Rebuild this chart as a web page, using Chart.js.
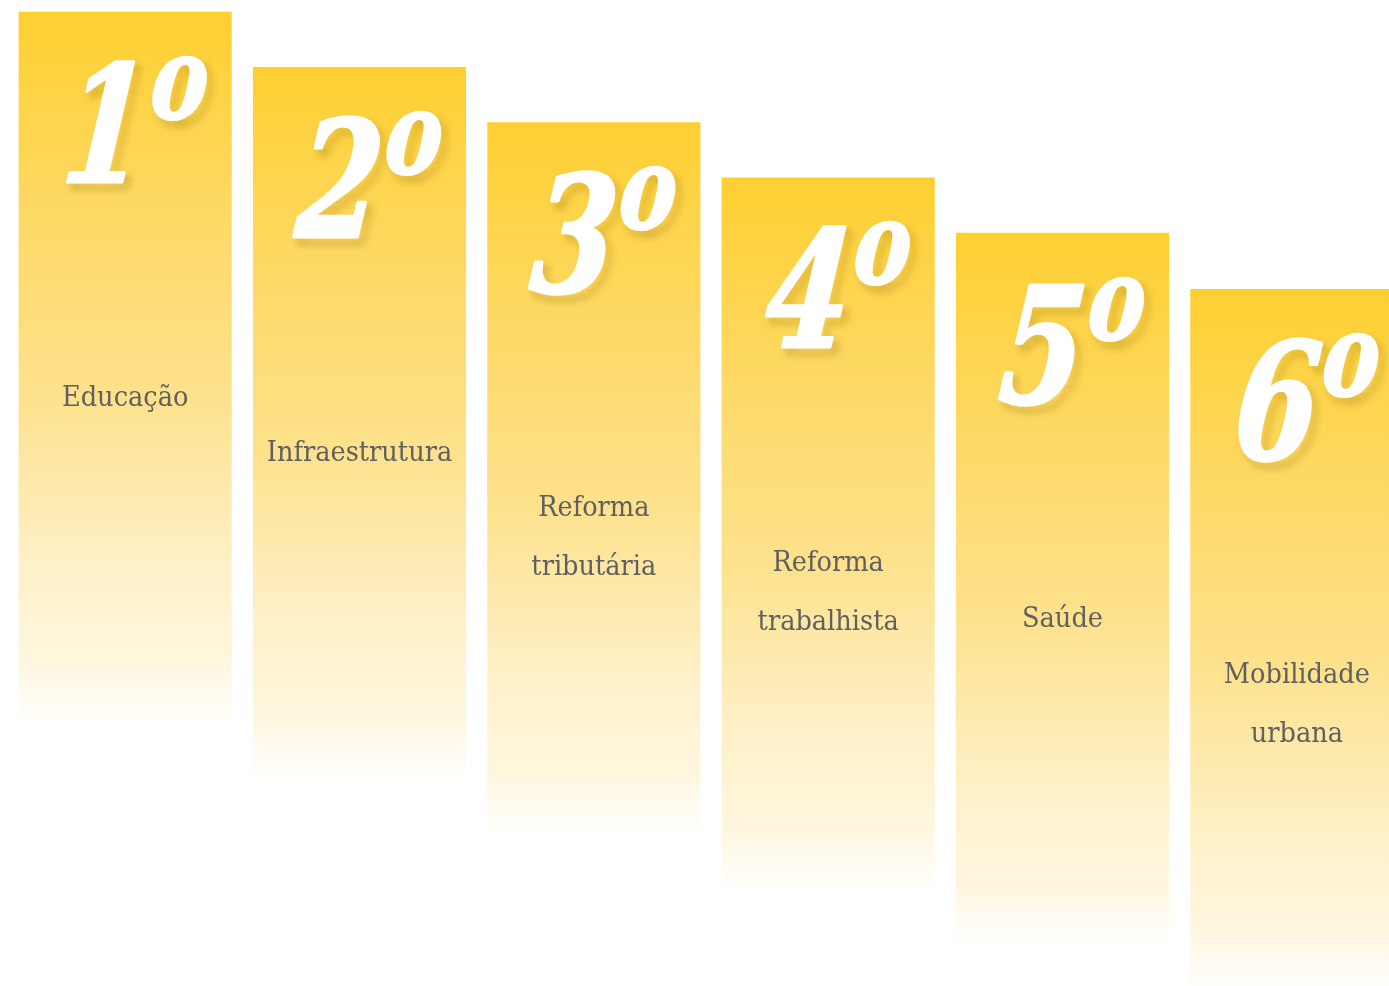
<!DOCTYPE html>
<html lang="pt">
<head>
<meta charset="utf-8">
<title>Ranking</title>
<script src="https://cdn.jsdelivr.net/npm/chart.js@4.4.1/dist/chart.umd.min.js"></script>
<style>
  html, body { margin: 0; padding: 0; background: #ffffff; overflow: hidden; }
  #wrap { width: 1414px; height: 986px; position: relative; }
</style>
</head>
<body>
<div id="wrap"><canvas id="rankChart"></canvas></div>
<script>
// categories, in ranking order
const categories = [
    'Educação',
    'Infraestrutura',
    ['Reforma', 'tributária'],
    ['Reforma', 'trabalhista'],
    'Saúde',
    ['Mobilidade', 'urbana']
];
const ranks = ['1', '2', '3', '4', '5', '6'];

// floating bars: top and bottom of each step
const barTops = [98.8, 93.2, 87.6, 82.0, 76.4, 70.7];
const barBottoms = [27.0, 21.4, 15.8, 10.2, 4.6, 0];

const barData = categories.map((c, i) => [barBottoms[i], barTops[i]]);

// vertical gold -> white fade for every bar
function barGradient(context) {
    const chart = context.chart;
    const i = context.dataIndex;
    if (i === undefined || !chart.chartArea) return '#fed030';
    const y = chart.scales.y;
    const top = y.getPixelForValue(barTops[i]);
    const bottom = y.getPixelForValue(barBottoms[i]);
    const g = chart.ctx.createLinearGradient(0, top, 0, bottom);
    g.addColorStop(0, 'rgb(254,207,48)');
    g.addColorStop(0.28, 'rgb(253,217,100)');
    g.addColorStop(0.55, 'rgb(253,226,142)');
    g.addColorStop(0.78, 'rgb(254,240,200)');
    g.addColorStop(0.92, 'rgb(255,246,222)');
    g.addColorStop(1, 'rgba(255,252,244,0.5)');
    return g;
}

// draws the big "1º" numbers and the category names on the bars
const rankLabels = {
    id: 'rankLabels',
    afterDatasetsDraw(chart) {
        const ctx = chart.ctx;
        const meta = chart.getDatasetMeta(0);
        meta.data.forEach((bar, i) => {
            const top = Math.min(bar.y, bar.base);

            // rank number
            ctx.save();
            const digitFont = 'italic bold 162px "DejaVu Serif Condensed", "DejaVu Serif", serif';
            const oFont = 'italic bold 114px "DejaVu Serif Condensed", "DejaVu Serif", serif';
            const sx = 0.82;
            const skew = -0.09;
            ctx.font = digitFont;
            const dw = ctx.measureText(ranks[i]).width * sx;
            ctx.font = oFont;
            const ow = ctx.measureText('o').width * sx;
            const gap = 6;
            const total = dw + gap + ow;
            const startX = bar.x + 7 - total / 2;
            const base = top + 170;

            ctx.fillStyle = '#ffffff';
            ctx.strokeStyle = '#ffffff';
            ctx.lineWidth = 3;
            ctx.lineJoin = 'round';
            ctx.textBaseline = 'alphabetic';
            ctx.textAlign = 'left';

            const drawPart = (txt, font, x, y) => {
                ctx.save();
                ctx.translate(x, y);
                ctx.transform(1, 0, skew, 1, 0, 0);
                ctx.scale(sx, 1);
                ctx.font = font;
                ctx.shadowColor = 'rgba(120,85,0,0.45)';
                ctx.shadowOffsetX = 5;
                ctx.shadowOffsetY = 6;
                ctx.shadowBlur = 7;
                ctx.strokeText(txt, 0, 0);
                ctx.shadowColor = 'transparent';
                ctx.fillText(txt, 0, 0);
                ctx.restore();
            };
            drawPart(ranks[i], digitFont, startX, base);
            drawPart('o', oFont, startX + dw + gap, base - 64);
            ctx.restore();

            // category name
            ctx.save();
            ctx.font = '28.5px "DejaVu Serif Condensed", "DejaVu Serif", serif';
            ctx.fillStyle = '#606060';
            ctx.textAlign = 'center';
            ctx.textBaseline = 'alphabetic';
            const lines = Array.isArray(categories[i]) ? categories[i] : [categories[i]];
            lines.forEach((line, k) => {
                ctx.fillText(line, bar.x, top + 394 + k * 59);
            });
            ctx.restore();
        });
    }
};

const ctx = document.getElementById('rankChart').getContext('2d');
const rankChart = new Chart(ctx, {
    type: 'bar',
    data: {
        labels: categories,
        datasets: [{
            data: barData,
            backgroundColor: barGradient,
            borderWidth: 0,
            borderSkipped: false,
            barPercentage: 1,
            categoryPercentage: 0.9095
        }]
    },
    options: {
        responsive: true,
        maintainAspectRatio: false,
        animation: false,
        events: [],
        layout: { padding: { left: 8, right: 0, top: 0, bottom: 0 } },
        plugins: {
            legend: { display: false },
            tooltip: { enabled: false }
        },
        scales: {
            x: { display: false, grid: { display: false } },
            y: { display: false, min: 0, max: 100, grid: { display: false } }
        }
    },
    plugins: [rankLabels]
});
</script>
</body>
</html>
